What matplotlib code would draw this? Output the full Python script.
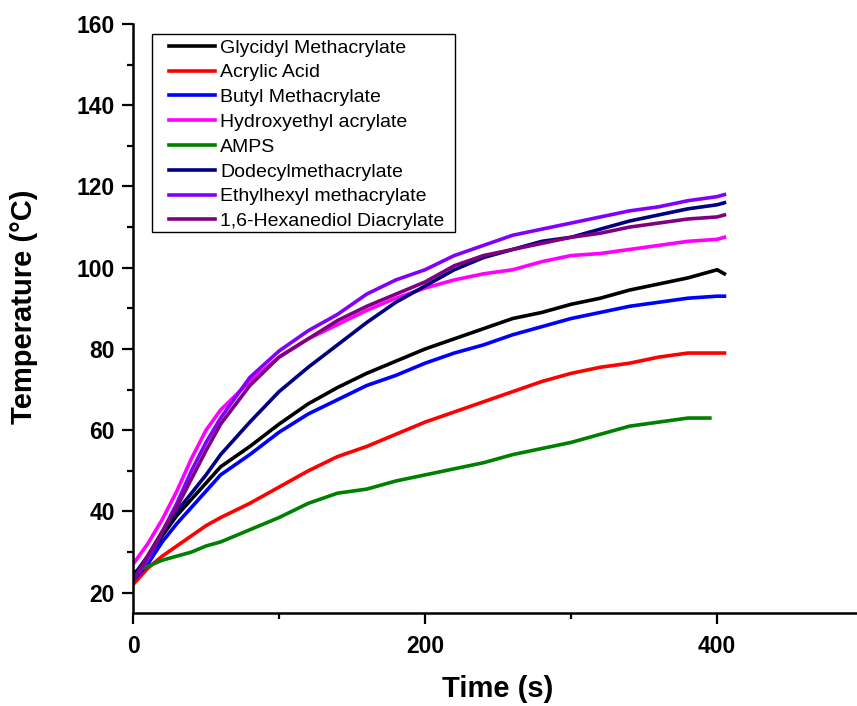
import matplotlib.pyplot as plt
from matplotlib.ticker import MultipleLocator
from matplotlib.patches import Rectangle

plt.rcParams['font.family'] = ['Liberation Sans', 'DejaVu Sans']

# time axis (s)
time = [0, 10, 20, 30, 40, 50, 60, 80, 100, 120, 140, 160, 180, 200,
        220, 240, 260, 280, 300, 320, 340, 360, 380, 400, 405]
time_amps = [0, 10, 20, 30, 40, 50, 60, 80, 100, 120, 140, 160, 180, 200,
             220, 240, 260, 280, 300, 320, 340, 360, 380, 395]

# temperatures (deg C)
glycidyl = [23, 28, 34, 39, 43, 47, 51, 56, 61.5, 66.5, 70.5, 74, 77, 80,
            82.5, 85, 87.5, 89, 91, 92.5, 94.5, 96, 97.5, 99.5, 98.5]
acrylic = [22, 26, 29, 31.5, 34, 36.5, 38.5, 42, 46, 50, 53.5, 56, 59, 62,
           64.5, 67, 69.5, 72, 74, 75.5, 76.5, 78, 79, 79, 79]
butyl = [23, 27, 32.5, 37, 41, 45, 49, 54, 59.5, 64, 67.5, 71, 73.5, 76.5,
         79, 81, 83.5, 85.5, 87.5, 89, 90.5, 91.5, 92.5, 93, 93]
hydroxyethyl = [27, 32, 38, 45, 53, 60, 65, 72, 78, 82.5, 86, 89.5, 92.5, 95,
                97, 98.5, 99.5, 101.5, 103, 103.5, 104.5, 105.5, 106.5, 107, 107.5]
amps = [25, 26.5, 28, 29, 30, 31.5, 32.5, 35.5, 38.5, 42, 44.5, 45.5, 47.5, 49,
        50.5, 52, 54, 55.5, 57, 59, 61, 62, 63, 63]
dodecyl = [24, 29, 35, 40, 44.5, 49, 54, 62, 69.5, 75.5, 81, 86.5, 91.5, 95.5,
           99.5, 102.5, 104.5, 106.5, 107.5, 109.5, 111.5, 113, 114.5, 115.5, 116]
ethylhexyl = [23, 28, 35, 42, 50, 57, 63, 73, 79.5, 84.5, 88.5, 93.5, 97, 99.5,
              103, 105.5, 108, 109.5, 111, 112.5, 114, 115, 116.5, 117.5, 118]
hexanediol = [23, 29, 35, 41, 48, 55, 61.5, 71, 78, 82.5, 87, 90.5, 93.5, 96.5,
              100.5, 103, 104.5, 106, 107.5, 108.5, 110, 111, 112, 112.5, 113]

names = ['Glycidyl Methacrylate', 'Acrylic Acid', 'Butyl Methacrylate',
         'Hydroxyethyl acrylate', 'AMPS', 'Dodecylmethacrylate',
         'Ethylhexyl methacrylate', '1,6-Hexanediol Diacrylate']
series = [(time, glycidyl), (time, acrylic), (time, butyl), (time, hydroxyethyl),
          (time_amps, amps), (time, dodecyl), (time, ethylhexyl), (time, hexanediol)]
colors = ['#000000', '#FF0000', '#0000FF', '#FF00FF',
          '#008000', '#000080', '#8000FF', '#800080']

W, H = 857, 706
fig = plt.figure(figsize=(W / 100, H / 100), dpi=100)
ax = fig.add_axes([0.1552, 0.1317, 0.852, 0.8343])

for (t, y), name, c in zip(series, names, colors):
    ax.plot(t, y, color=c, lw=2.6, label=name)

ax.set_xlim(0, 500)
ax.set_ylim(15, 160)
ax.xaxis.set_major_locator(MultipleLocator(200))
ax.xaxis.set_minor_locator(MultipleLocator(100))
ax.yaxis.set_major_locator(MultipleLocator(20))
ax.yaxis.set_minor_locator(MultipleLocator(10))

for s in ['top', 'right']:
    ax.spines[s].set_visible(False)
for s in ['left', 'bottom']:
    ax.spines[s].set_linewidth(1.8)

ax.tick_params(which='major', direction='out', length=8, width=1.6,
               labelsize=16.5, pad=5)
ax.tick_params(axis='x', which='major', pad=8)
ax.tick_params(which='minor', direction='out', length=4.5, width=1.6)
for lab in ax.get_xticklabels() + ax.get_yticklabels():
    lab.set_fontweight('bold')

ax.set_xlabel('Time (s)', fontsize=21, fontweight='bold')
ax.set_ylabel('Temperature (°C)', fontsize=21, fontweight='bold')
ax.xaxis.set_label_coords(0.5, -0.105)
ax.yaxis.set_label_coords(-0.13, 0.52)

# legend contents without frame, box drawn separately (Origin-style padding)
leg = ax.legend(loc='upper left', bbox_to_anchor=(169 / W, 1 - 39 / H),
                bbox_transform=fig.transFigure, borderaxespad=0, borderpad=0,
                fontsize=14, frameon=False,
                handlelength=2.35, handletextpad=0.28, labelspacing=0.37)
fig.patches.append(Rectangle((152 / W, 1 - 232 / H), 303 / W, 198 / H,
                             transform=fig.transFigure, fill=False,
                             edgecolor='black', linewidth=1.0))

fig.savefig('out.png', dpi=100)
